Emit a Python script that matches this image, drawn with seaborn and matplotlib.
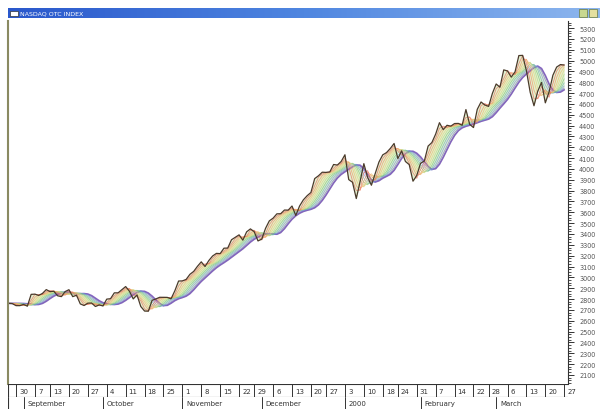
import numpy as np
import pandas as pd
import seaborn as sns
import matplotlib.pyplot as plt
from matplotlib.ticker import MultipleLocator
from matplotlib.patches import Rectangle
from matplotlib.colors import LinearSegmentedColormap

# Daily closes, 26 Aug 1999 .. 27 Mar 2000 (trading days)
holidays = ["1999-09-06", "1999-11-25", "1999-12-24", "2000-01-17", "2000-02-21"]
closes = [
    2760, 2758,                                             # Aug 26-27
    2739, 2739, 2750, 2734, 2843,                           # Aug 30 - Sep 3
    2845, 2833, 2852, 2887,                                 # Sep 7-10
    2868, 2872, 2830, 2822, 2869,                           # Sep 13-17
    2886, 2822, 2835, 2755, 2740,                           # Sep 20-24
    2762, 2763, 2731, 2746, 2736,                           # Sep 27 - Oct 1
    2799, 2803, 2857, 2857, 2886,                           # Oct 4-8
    2915, 2872, 2801, 2838, 2731,                           # Oct 11-15
    2689, 2688, 2788, 2801, 2816,                           # Oct 18-22
    2815, 2815, 2802, 2875, 2966,                           # Oct 25-29
    2967, 2981, 3028, 3055, 3102,                           # Nov 1-5
    3143, 3100, 3155, 3197, 3221,                           # Nov 8-12
    3219, 3269, 3270, 3347, 3369,                           # Nov 15-19
    3392, 3343, 3420, 3447,                                 # Nov 22-26
    3421, 3336, 3353, 3452, 3521,                           # Nov 29 - Dec 3
    3546, 3586, 3587, 3621, 3620,                           # Dec 6-10
    3658, 3571, 3658, 3715, 3753,                           # Dec 13-17
    3783, 3911, 3937, 3970,                                 # Dec 20-23
    3968, 3973, 4041, 4036, 4069,                           # Dec 27-31
    4131, 3902, 3877, 3727, 3882,                           # Jan 3-7
    4049, 3921, 3850, 3957, 4064,                           # Jan 10-14
    4130, 4151, 4189, 4235,                                 # Jan 18-21
    4096, 4167, 4069, 4040, 3887,                           # Jan 24-28
    3940, 4052, 4073, 4211, 4244,                           # Jan 31 - Feb 4
    4322, 4427, 4363, 4403, 4395,                           # Feb 7-11
    4419, 4420, 4403, 4548, 4411,                           # Feb 14-18
    4382, 4550, 4618, 4590,                                 # Feb 22-25
    4577, 4697, 4784, 4754, 4914,                           # Feb 28 - Mar 3
    4904, 4847, 4897, 5046, 5048,                           # Mar 6-10
    4907, 4707, 4583, 4717, 4798,                           # Mar 13-17
    4610, 4711, 4864, 4940, 4963,                           # Mar 20-24
    4959,                                                   # Mar 27
]
title = "NASDAQ OTC INDEX"
rainbow_colors = ["#e86a5a", "#ee9460", "#eeba6a", "#e0d480", "#b4d884",
                  "#7cc47a", "#6ab4b0", "#7896d8", "#7a74cc", "#7e5cbc"]

days = pd.bdate_range("1999-08-26", "2000-03-27")
days = days[~days.isin(pd.to_datetime(holidays))]
idx = np.arange(len(days)) - 2          # 30 Aug 1999 = 0
price = pd.Series(closes, dtype=float)

# rainbow chart: ten recursive 2-period moving averages of the close
levels = []
cur = price
for _ in range(10):
    cur = cur.rolling(2, min_periods=1).mean()
    levels.append(cur)

sns.set_style("white")
fig = plt.figure(figsize=(6, 4.1), dpi=100)
W, H = 600, 410
x0, x1 = -2.12, 146.0

ax = fig.add_axes([8 / W, 25 / H, 560 / W, 363 / H])
ax.fill_between(idx, price, levels[-1], color="#e2f1cf", lw=0)
for k in range(9, -1, -1):
    sns.lineplot(x=idx, y=levels[k].values, ax=ax, color=rainbow_colors[k],
                 lw=1.2 if k == 9 else 0.6, alpha=0.95 if k == 9 else 0.7)
sns.lineplot(x=idx, y=price.values, ax=ax, color="#4a3a2a", lw=0.9)

ax.set_xlim(x0, x1)
ax.set_ylim(2016, 5365)
ax.set_xticks([])
ax.yaxis.tick_right()
ax.yaxis.set_minor_locator(MultipleLocator(25))
ticks = np.arange(2100, 5301, 100)
ax.set_yticks(ticks)
ax.set_yticklabels([str(v) for v in ticks])
ax.tick_params(axis="y", which="major", length=4, width=0.7, color="#333333",
               labelsize=4.7, labelcolor="#555555", pad=4, right=True)
ax.tick_params(axis="y", which="minor", length=2, width=0.6,
               color="#333333", right=True)
for side in ["top", "bottom"]:
    ax.spines[side].set_visible(False)
ax.spines["left"].set_color("#8a8a62")
ax.spines["left"].set_linewidth(1.5)
ax.spines["right"].set_color("#333333")
ax.spines["right"].set_linewidth(0.8)

# week row
week_first = pd.Series(idx, index=days).groupby(days.to_period("W")).first()
ax_w = fig.add_axes([8 / W, 12 / H, 560 / W, 13 / H])
ax_w.set_xlim(x0, x1)
ax_w.set_ylim(0, 1)
ax_w.axis("off")
ax_w.axhline(1, color="#333333", lw=0.8)
ax_w.axhline(0, color="#333333", lw=0.8)
ax_w.axvline(x0, color="#333333", lw=0.8)
for per, i in week_first.items():
    if i < 0:
        continue
    d = days[i + 2]
    ax_w.axvline(i, color="#333333", lw=0.7)
    ax_w.text(i + 0.8, 0.45, str(d.day), fontsize=5, color="#333333",
              va="center", ha="left")

# month row
month_first = pd.Series(idx, index=days).groupby(days.to_period("M")).first()
ax_m = fig.add_axes([8 / W, 0, 560 / W, 12 / H])
ax_m.set_xlim(x0, x1)
ax_m.set_ylim(0, 1)
ax_m.axis("off")
ax_m.axvline(x0, color="#333333", lw=0.8)
for per, i in month_first.items():
    if per.month == 8:
        continue
    name = str(per.year) if per.month == 1 else days[i + 2].strftime("%B")
    ax_m.axvline(i, color="#333333", lw=0.7)
    ax_m.text(i + 1.0, 0.5, name, fontsize=5, color="#333333",
              va="center", ha="left")

# window title bar
ax_t = fig.add_axes([8 / W, (H - 19) / H, 592 / W, 10 / H])
grad = np.linspace(0, 1, 256).reshape(1, -1)
cmap = LinearSegmentedColormap.from_list("bar", ["#2a58cc", "#4f86e0", "#8db6ee"])
ax_t.imshow(grad, aspect="auto", cmap=cmap, extent=[0, 592, 0, 10])
ax_t.set_xlim(0, 592)
ax_t.set_ylim(0, 10)
ax_t.axis("off")
ax_t.add_patch(Rectangle((1.5, 2.5), 8, 5, facecolor="white", edgecolor="#333333", lw=0.5))
ax_t.text(12, 5, title, fontsize=4.5, color="white", va="center", ha="left")
ax_t.add_patch(Rectangle((571, 1), 8, 8, facecolor="#c8d890", edgecolor="#6a7a40", lw=0.5))
ax_t.add_patch(Rectangle((581, 1), 8, 8, facecolor="#e4e0a0", edgecolor="#6a7a40", lw=0.5))

fig.savefig("out.png", dpi=100)
